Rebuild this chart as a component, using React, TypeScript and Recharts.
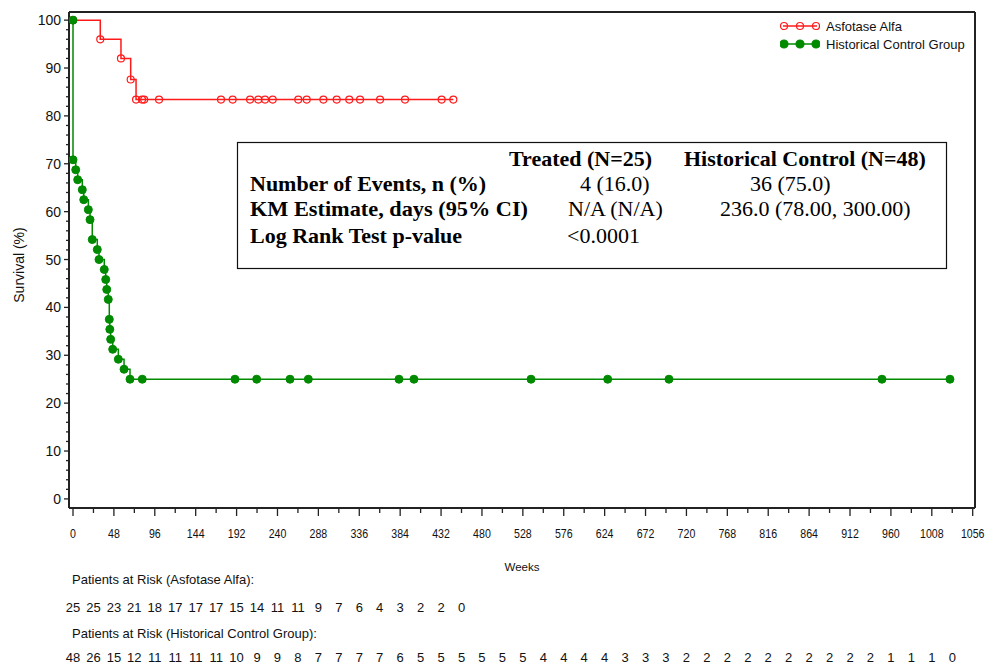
import React from 'react';
import { LineChart, Line, XAxis, YAxis, ReferenceLine, Legend } from 'recharts';

// Kaplan-Meier curve: Asfotase Alfa (time in weeks, survival %)
const asfTimes = [0, 32, 56.3, 67.7, 74, 81, 83.5, 101, 173.7, 187.4, 207.8, 217.5, 225.4, 234.4, 264.4, 274.3, 293.9, 309.5, 324.3, 336.9, 360.4, 389.7, 432.7, 446.4];
const asfSurv = [100, 96, 92, 87.6, 83.4, 83.4, 83.4, 83.4, 83.4, 83.4, 83.4, 83.4, 83.4, 83.4, 83.4, 83.4, 83.4, 83.4, 83.4, 83.4, 83.4, 83.4, 83.4, 83.4];

// Kaplan-Meier curve: Historical Control Group
const hcTimes = [0, 0, 3.2, 5.5, 10.9, 12.6, 18, 20, 22.6, 28.5, 30.5, 36.7, 38.4, 39.6, 41.4, 42.6, 43.2, 44.2, 46.6, 53.2, 59.9, 66.9, 81.3, 190.1, 215.6, 254.7, 276.2, 382.6, 400.2, 537.6, 627.6, 699.5, 949.5, 1029.3];
const hcSurv = [100, 70.83, 68.75, 66.67, 64.58, 62.5, 60.42, 58.33, 54.17, 52.08, 50, 47.92, 45.83, 43.75, 41.67, 37.5, 35.42, 33.33, 31.25, 29.17, 27.08, 25, 25, 25, 25, 25, 25, 25, 25, 25, 25, 25, 25, 25];

// Patients at risk every 24 weeks
const asfRisk = [25, 25, 23, 21, 18, 17, 17, 17, 15, 14, 11, 11, 9, 7, 6, 4, 3, 2, 2, 0];
const hcRisk = [48, 26, 15, 12, 11, 11, 11, 11, 10, 9, 9, 8, 7, 7, 7, 7, 6, 5, 5, 5, 5, 5, 5, 4, 4, 4, 4, 3, 3, 3, 2, 2, 2, 2, 2, 2, 2, 2, 2, 2, 1, 1, 1, 0];

const xTicks = Array.from({ length: 45 }, (_, i) => i * 24);
const yTicks = Array.from({ length: 51 }, (_, i) => i * 2);

const asfData = asfTimes.map((t, i) => ({ t, s: asfSurv[i] }));
const hcData = hcTimes.map((t, i) => ({ t, s: hcSurv[i] }));

const X_MIN = -4.7;
const X_MAX = 1058.7;
const Y_MIN = -1.9;
const Y_MAX = 101.7;

const RED = '#ff1a1a';
const GREEN = '#008a00';
const AXIS = '#222';
const SANS = '"Liberation Sans", Arial, sans-serif';
const SERIF = '"Liberation Serif", "Times New Roman", serif';

const XTick = (props: any) => {
  const { x, y, payload } = props;
  const v = payload.value as number;
  const i = Math.round(v / 24);
  const major = v % 48 === 0;
  const lbl = String(v);
  return (
    <g>
      <line x1={x} x2={x} y1={y} y2={y + (major ? 8 : 5)} stroke={AXIS} strokeWidth={1.3} />
      {major && (
        <text
          x={x}
          y={y + 30}
          textAnchor="middle"
          fontSize={13.5}
          fontFamily={SANS}
          fill="#111"
          textLength={lbl.length * 5.9}
          lengthAdjust="spacingAndGlyphs"
        >
          {lbl}
        </text>
      )}
      {i < asfRisk.length && (
        <text x={x} y={y + 104} textAnchor="middle" fontSize={13} fontFamily={SANS} fill="#111">{asfRisk[i]}</text>
      )}
      {i < hcRisk.length && (
        <text x={x} y={y + 154} textAnchor="middle" fontSize={13} fontFamily={SANS} fill="#111">{hcRisk[i]}</text>
      )}
      {v === 0 && (
        <>
          <text x={x - 1} y={y + 76} fontSize={13} fontFamily={SANS} fill="#111">Patients at Risk (Asfotase Alfa):</text>
          <text x={x - 1} y={y + 130} fontSize={13} fontFamily={SANS} fill="#111">Patients at Risk (Historical Control Group):</text>
        </>
      )}
    </g>
  );
};

const YTick = (props: any) => {
  const { x, y, payload } = props;
  const v = payload.value as number;
  const major = v % 10 === 0;
  return (
    <g>
      <line x1={x - (major ? 5 : 3)} x2={x} y1={y} y2={y} stroke={AXIS} strokeWidth={1.3} />
      {major && (
        <text x={x - 8} y={y + 5} textAnchor="end" fontSize={14} fontFamily={SANS} fill="#111">{v}</text>
      )}
    </g>
  );
};

const legendItems = [
  { name: 'Asfotase Alfa', color: RED, filled: false },
  { name: 'Historical Control Group', color: GREEN, filled: true },
];

const LegendContent = () => (
  <div style={{ fontFamily: SANS, fontSize: 13, color: '#111' }}>
    {legendItems.map((it) => (
      <div key={it.name} style={{ display: 'flex', alignItems: 'center', height: 18 }}>
        <svg width={40} height={12} style={{ marginRight: 6 }}>
          <line x1={3} x2={37} y1={6} y2={6} stroke={it.color} strokeWidth={1.5} />
          {[4, 20, 36].map((cx) => (
            <circle key={cx} cx={cx} cy={6} r={it.filled ? 4 : 3.5} fill={it.filled ? it.color : 'none'} stroke={it.color} strokeWidth={1.2} />
          ))}
        </svg>
        <span>{it.name}</span>
      </div>
    ))}
  </div>
);

const statRows = [
  { label: 'Number of Events, n (%)', len: 0, treated: '4 (16.0)', tx: 580, control: '36 (75.0)', cx: 750, y: 191 },
  { label: 'KM Estimate, days (95% CI)', len: 278, treated: 'N/A (N/A)', tx: 568, control: '236.0 (78.00, 300.00)', cx: 720, y: 216 },
  { label: 'Log Rank Test p-value', len: 0, treated: '<0.0001', tx: 567, control: '', cx: 720, y: 243 },
];

const StatsBox = () => (
  <svg width={985} height={665} style={{ position: 'absolute', left: 0, top: 0, pointerEvents: 'none' }}>
    <rect x={237.5} y={142.5} width={709} height={126} fill="#fff" stroke="#111" strokeWidth={1.2} />
    <text x={509} y={166} fontSize={22} fontWeight="bold" fontFamily={SERIF} fill="#000">Treated (N=25)</text>
    <text x={684} y={166} fontSize={22} fontWeight="bold" fontFamily={SERIF} fill="#000">Historical Control (N=48)</text>
    {statRows.map((r) => (
      <g key={r.label}>
        <text
          x={250}
          y={r.y}
          fontSize={22}
          fontWeight="bold"
          fontFamily={SERIF}
          fill="#000"
          {...(r.len ? { textLength: r.len, lengthAdjust: 'spacingAndGlyphs' } : {})}
        >
          {r.label}
        </text>
        <text x={r.tx} y={r.y} fontSize={22} fontFamily={SERIF} fill="#000">{r.treated}</text>
        {r.control && <text x={r.cx} y={r.y} fontSize={22} fontFamily={SERIF} fill="#000">{r.control}</text>}
      </g>
    ))}
  </svg>
);

export default function App() {
  return (
    <div style={{ position: 'absolute', left: 0, top: 0, width: 985, height: 665, background: '#fff' }}>
      <LineChart width={985} height={665} margin={{ top: 12, right: 10, bottom: 0, left: 0 }}>
        <XAxis
          type="number"
          dataKey="t"
          domain={[X_MIN, X_MAX]}
          ticks={xTicks}
          interval={0}
          allowDataOverflow
          height={157}
          tickSize={0}
          tickMargin={0}
          tickLine={false}
          tick={<XTick />}
          axisLine={{ stroke: AXIS, strokeWidth: 2 }}
          label={{ value: 'Weeks', position: 'insideTop', offset: 55, fontSize: 11.5, fontFamily: SANS, fill: '#111' }}
        />
        <YAxis
          type="number"
          domain={[Y_MIN, Y_MAX]}
          ticks={yTicks}
          interval={0}
          allowDataOverflow
          width={69}
          tickSize={0}
          tickMargin={0}
          tickLine={false}
          tick={<YTick />}
          axisLine={{ stroke: AXIS, strokeWidth: 2 }}
          label={{
            content: (p: any) => {
              const vb = p.viewBox || { x: 0, y: 12, width: 69, height: 496 };
              return (
                <text
                  transform={`translate(${vb.x + 24},${vb.y + vb.height / 2 + 5}) rotate(-90)`}
                  textAnchor="middle"
                  fontSize={14}
                  fontFamily={SANS}
                  fill="#111"
                >
                  Survival (%)
                </text>
              );
            },
          }}
        />
        <ReferenceLine y={Y_MAX} stroke={AXIS} strokeWidth={2} />
        <ReferenceLine x={X_MAX} stroke={AXIS} strokeWidth={2} />
        <Legend
          layout="horizontal"
          verticalAlign="middle"
          align="center"
          wrapperStyle={{ left: 780, top: 17, width: 200, height: 40 }}
          content={<LegendContent />}
        />
        <Line
          data={asfData}
          dataKey="s"
          name="Asfotase Alfa"
          type="stepAfter"
          stroke={RED}
          strokeWidth={1.5}
          dot={{ r: 3.5, fill: 'none', stroke: RED, strokeWidth: 1.2 }}
          activeDot={false}
          isAnimationActive={false}
        />
        <Line
          data={hcData}
          dataKey="s"
          name="Historical Control Group"
          type="stepAfter"
          stroke={GREEN}
          strokeWidth={1.5}
          dot={{ r: 4, fill: GREEN, stroke: GREEN, strokeWidth: 1 }}
          activeDot={false}
          isAnimationActive={false}
        />
      </LineChart>
      <StatsBox />
    </div>
  );
}
